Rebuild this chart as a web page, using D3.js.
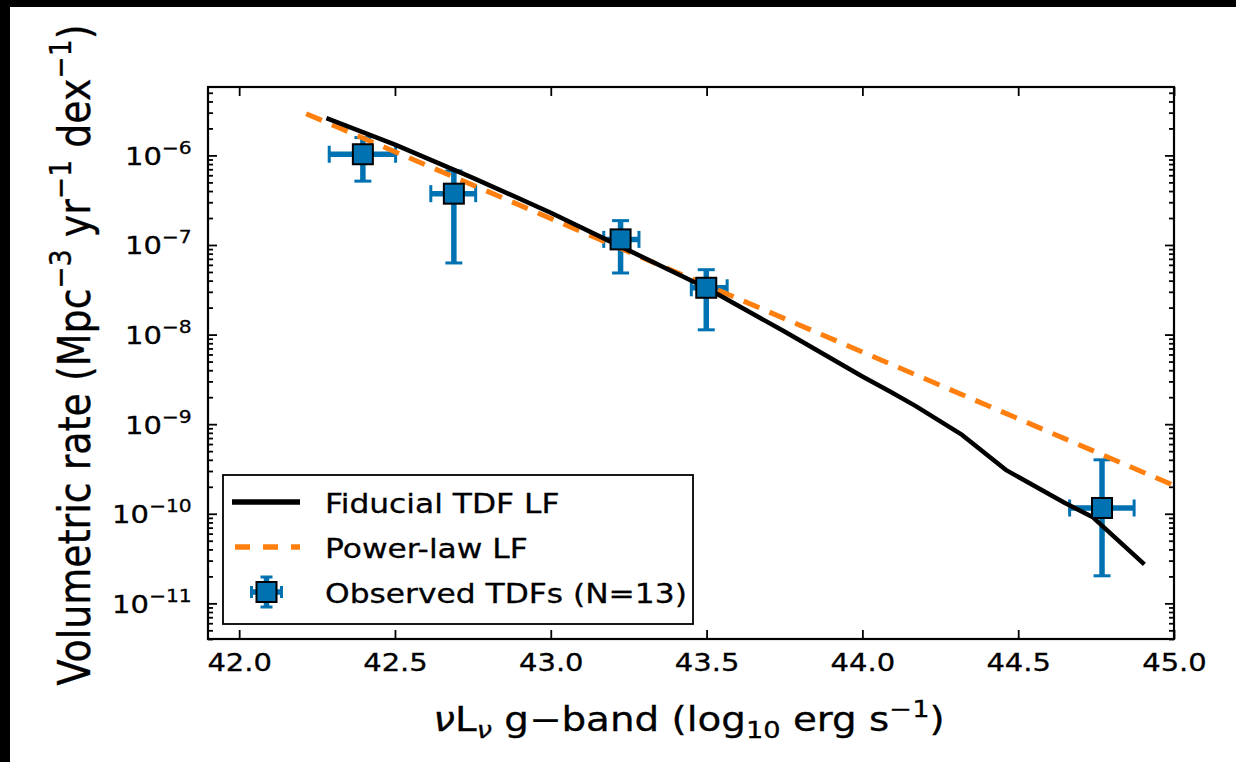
<!DOCTYPE html>
<html>
<head>
<meta charset="utf-8">
<script src="https://cdn.jsdelivr.net/npm/d3@7"></script>
<style>
  html, body { margin: 0; padding: 0; background: #fff; }
  svg { display: block; }
  text { font-family: "DejaVu Sans", sans-serif; fill: #000; stroke: #000; stroke-width: 0.3px; }
</style>
</head>
<body>
<svg id="chart" width="1236" height="762"></svg>
<script>
// ---------------- data ----------------
const obsX    = [42.397, 42.689, 43.224, 43.499, 44.769];
const obsY    = [1.03e-6, 3.74e-7, 1.155e-7, 3.33e-8, 1.16e-10];
const obsXLo  = [42.289, 42.615, 43.170, 43.451, 44.665];
const obsXHi  = [42.502, 42.759, 43.283, 43.566, 44.872];
const obsYLo  = [5.16e-7, 6.3e-8, 4.87e-8, 1.13e-8, 2.03e-11];
const obsYHi  = [1.58e-6, 6.7e-7, 1.87e-7, 5.3e-8, 4.0e-10];

const fidX = [42.28, 42.5, 42.75, 43.0, 43.25, 43.5, 43.75, 44.0, 44.09, 44.17, 44.32, 44.46, 44.65, 44.74, 44.905];
const fidY = [2.61e-6, 1.32e-6, 5.62e-7, 2.29e-7, 8.71e-8, 3.31e-8, 1.08e-8, 3.4e-9, 2.3e-9, 1.6e-9, 7.59e-10, 3.09e-10, 1.32e-10, 9.12e-11, 2.72e-11];

const plX = [42.215, 45.0];
const plY = [2.92e-6, 2.07e-10];

const xTicks = [42.0, 42.5, 43.0, 43.5, 44.0, 44.5, 45.0];
const xTickLabels = ["42.0", "42.5", "43.0", "43.5", "44.0", "44.5", "45.0"];
const yTicks = [1e-11, 1e-10, 1e-9, 1e-8, 1e-7, 1e-6];
const yTickExp = ["−11", "−10", "−9", "−8", "−7", "−6"];
const legendLabels = ["Fiducial TDF LF", "Power-law LF", "Observed TDFs (N=13)"];

// ---------------- layout ----------------
const SX = 1.16; // horizontal text stretch of the reference
const L = 208, R = 1174, T = 87, B = 639;
const blue = "#0072b2", orange = "#ff7f0e";

const svg = d3.select("#chart");
svg.append("rect").attr("x", 0).attr("y", 0).attr("width", 1236).attr("height", 7).attr("fill", "#000");
svg.append("rect").attr("x", 0).attr("y", 0).attr("width", 10).attr("height", 762).attr("fill", "#000");

const x = d3.scaleLinear().domain([41.9, 45.0]).range([L, R]);
const y = d3.scaleLog().domain([4e-12, 5.8e-6]).range([B, T]);

const minors = [];
for (let e = -12; e <= -6; e++) for (let m = 2; m <= 9; m++) {
  const v = m * Math.pow(10, e);
  if (v >= y.domain()[0] && v <= y.domain()[1]) minors.push(v);
}

svg.append("clipPath").attr("id", "clip").append("rect")
  .attr("x", L).attr("y", T).attr("width", R - L).attr("height", B - T);

// ---------------- axes ----------------
function styleAxis(g) {
  g.select(".domain").remove();
  g.selectAll(".tick line").attr("stroke", "#000").attr("stroke-width", 1.8);
}
const gx = svg.append("g").attr("transform", `translate(0,${B})`)
  .call(d3.axisBottom(x).tickValues(xTicks).tickSize(-9).tickPadding(14)
        .tickFormat((d, i) => xTickLabels[i]));
styleAxis(gx);
gx.selectAll(".tick text").attr("font-size", 25).attr("font-family", "DejaVu Sans")
  .attr("fill", "#000").attr("transform", `scale(${SX},1)`);
const gxt = svg.append("g").attr("transform", `translate(0,${T})`)
  .call(d3.axisTop(x).tickValues(xTicks).tickSize(-9).tickFormat(""));
styleAxis(gxt);
const gy = svg.append("g").attr("transform", `translate(${L},0)`)
  .call(d3.axisLeft(y).tickValues(yTicks).tickSize(-9).tickPadding(14).tickFormat(""));
styleAxis(gy);
gy.selectAll(".tick text").each(function(d, i) {
  const t = d3.select(this);
  t.text(null).attr("font-size", 25).attr("font-family", "DejaVu Sans").attr("fill", "#000")
   .attr("text-anchor", "end").attr("dy", "0.36em").attr("transform", `scale(${SX},1)`);
  t.append("tspan").text("10");
  t.append("tspan").attr("font-size", 17.5).attr("dy", -11).text(yTickExp[i]);
});
const gym = svg.append("g").attr("transform", `translate(${L},0)`)
  .call(d3.axisLeft(y).tickValues(minors).tickSize(-5).tickFormat(""));
styleAxis(gym);
const gyr = svg.append("g").attr("transform", `translate(${R},0)`)
  .call(d3.axisRight(y).tickValues(yTicks).tickSize(-9).tickFormat(""));
styleAxis(gyr);
const gyrm = svg.append("g").attr("transform", `translate(${R},0)`)
  .call(d3.axisRight(y).tickValues(minors).tickSize(-5).tickFormat(""));
styleAxis(gyrm);

// ---------------- data layers ----------------
const plot = svg.append("g").attr("clip-path", "url(#clip)");

const obs = obsX.map((d, i) => ({x: d, y: obsY[i], xl: obsXLo[i], xh: obsXHi[i], yl: obsYLo[i], yh: obsYHi[i]}));
const eb = plot.append("g");
obs.forEach(o => {
  const cx = x(o.x), cy = y(o.y);
  eb.append("line").attr("x1", x(o.xl)).attr("x2", x(o.xh)).attr("y1", cy).attr("y2", cy)
    .attr("stroke", blue).attr("stroke-width", 5.5);
  eb.append("line").attr("x1", cx).attr("x2", cx).attr("y1", y(o.yl)).attr("y2", y(o.yh))
    .attr("stroke", blue).attr("stroke-width", 5.5);
  [o.xl, o.xh].forEach(v => eb.append("line").attr("x1", x(v)).attr("x2", x(v))
    .attr("y1", cy - 8.5).attr("y2", cy + 8.5).attr("stroke", blue).attr("stroke-width", 3));
  [o.yl, o.yh].forEach(v => eb.append("line").attr("y1", y(v)).attr("y2", y(v))
    .attr("x1", cx - 8.5).attr("x2", cx + 8.5).attr("stroke", blue).attr("stroke-width", 3));
});

const line = d3.line().x(d => x(d[0])).y(d => y(d[1]));
plot.append("path").datum(plX.map((d, i) => [d, plY[i]])).attr("d", line)
  .attr("fill", "none").attr("stroke", orange).attr("stroke-width", 5)
  .attr("stroke-dasharray", "17,11");
plot.append("path").datum(fidX.map((d, i) => [d, fidY[i]])).attr("d", line)
  .attr("fill", "none").attr("stroke", "#000").attr("stroke-width", 4.5)
  .attr("stroke-linejoin", "round");

plot.selectAll("rect.sq").data(obs).enter().append("rect").attr("class", "sq")
  .attr("x", d => x(d.x) - 10).attr("y", d => y(d.y) - 10)
  .attr("width", 20).attr("height", 20)
  .attr("fill", blue).attr("stroke", "#000").attr("stroke-width", 2);

svg.append("rect").attr("x", L).attr("y", T).attr("width", R - L).attr("height", B - T)
  .attr("fill", "none").attr("stroke", "#000").attr("stroke-width", 2.2);

// ---------------- legend ----------------
const lg = svg.append("g");
lg.append("rect").attr("x", 223).attr("y", 475).attr("width", 470).attr("height", 149)
  .attr("fill", "#fff").attr("stroke", "#000").attr("stroke-width", 1.8);
const rows = [502, 547, 592];
lg.append("line").attr("x1", 232).attr("x2", 300).attr("y1", rows[0]).attr("y2", rows[0])
  .attr("stroke", "#000").attr("stroke-width", 5.5);
lg.append("line").attr("x1", 235).attr("x2", 300).attr("y1", rows[1]).attr("y2", rows[1])
  .attr("stroke", orange).attr("stroke-width", 5.5).attr("stroke-dasharray", "15,13");
const mx = 266.5, my = rows[2];
lg.append("line").attr("x1", mx - 15).attr("x2", mx + 15).attr("y1", my).attr("y2", my).attr("stroke", blue).attr("stroke-width", 5.5);
lg.append("line").attr("x1", mx).attr("x2", mx).attr("y1", my - 15).attr("y2", my + 15).attr("stroke", blue).attr("stroke-width", 5.5);
[-15, 15].forEach(o => {
  lg.append("line").attr("x1", mx + o).attr("x2", mx + o).attr("y1", my - 6).attr("y2", my + 6).attr("stroke", blue).attr("stroke-width", 3);
  lg.append("line").attr("y1", my + o).attr("y2", my + o).attr("x1", mx - 6).attr("x2", mx + 6).attr("stroke", blue).attr("stroke-width", 3);
});
lg.append("rect").attr("x", mx - 10).attr("y", my - 10).attr("width", 20).attr("height", 20)
  .attr("fill", blue).attr("stroke", "#000").attr("stroke-width", 2);
legendLabels.forEach((t, i) => {
  lg.append("text").attr("transform", `translate(325,${rows[i] + 11}) scale(${SX},1)`)
    .attr("font-size", 27).text(t);
});

// ---------------- axis labels ----------------
const xl = svg.append("text").attr("transform", `translate(689,731) scale(${SX},1)`)
  .attr("text-anchor", "middle").attr("font-size", 33.5);
xl.append("tspan").attr("font-style", "italic").text("ν");
xl.append("tspan").text("L");
xl.append("tspan").attr("font-style", "italic").attr("font-size", 23.5).attr("dy", 7).text("ν");
xl.append("tspan").attr("dy", -7).text(" g−band (log");
xl.append("tspan").attr("font-size", 23.5).attr("dy", 7).text("10");
xl.append("tspan").attr("dy", -7).text(" erg s");
xl.append("tspan").attr("font-size", 23.5).attr("dy", -14).text("−1");
xl.append("tspan").attr("dy", 14).text(")");

const yl = svg.append("text").attr("transform", `translate(90,355) scale(${SX},1) rotate(-90)`)
  .attr("text-anchor", "middle").attr("font-size", 38);
yl.append("tspan").text("Volumetric rate (Mpc");
yl.append("tspan").attr("font-size", 26.6).attr("dy", -16).text("−3");
yl.append("tspan").attr("dy", 16).text(" yr");
yl.append("tspan").attr("font-size", 26.6).attr("dy", -16).text("−1");
yl.append("tspan").attr("dy", 16).text(" dex");
yl.append("tspan").attr("font-size", 26.6).attr("dy", -16).text("−1");
yl.append("tspan").attr("dy", 16).text(")");
</script>
</body>
</html>
